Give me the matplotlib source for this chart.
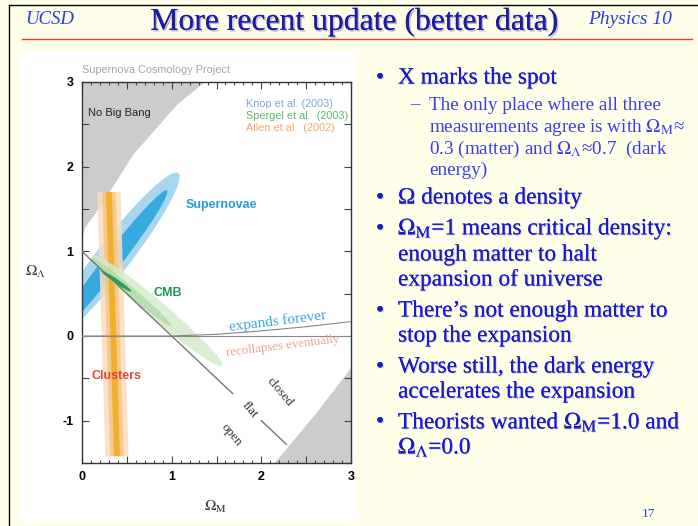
import numpy as np
import matplotlib
matplotlib.use("Agg")
import matplotlib.pyplot as plt
import matplotlib.patheffects as pe
from matplotlib.patches import Ellipse, Polygon, Rectangle
from matplotlib.ticker import MultipleLocator, FuncFormatter

plt.rcParams['font.family'] = ['Liberation Serif', 'DejaVu Serif']
plt.rcParams['mathtext.fontset'] = 'stix'

W, H = 698, 526

# ---- data read off the Omega_M / Omega_Lambda diagram ----
# "No Big Bang" boundary (upper left), Omega_M vs Omega_Lambda
nbb_om = [0.0, 0.03, 0.22, 0.57, 1.06, 1.37]
nbb_ol = [1.12, 1.27, 1.55, 2.14, 2.73, 3.0]
# grey region lower right
lr_om = [2.15, 2.6, 3.0]
lr_ol = [-1.5, -0.93, -0.38]
# expands forever / recollapses eventually boundary
ex_om = [0.0, 1.0, 1.5, 2.0, 2.5, 3.0]
ex_ol = [0.0, 0.0, 0.02, 0.06, 0.11, 0.17]
# flat universe line, split around the label
flat_om = [[0.0, 1.68], [2.0, 2.28]]
flat_ol = [[1.0, -0.68], [-1.0, -1.28]]

# supernova contours: centre, full length, full width, angle
sn_center = [(0.35, 0.93), (0.33, 0.87)]
sn_length = [2.46, 2.10]
sn_width = [0.38, 0.20]
sn_angle = [54, 54]
sn_colors = ['#a6d7ee', '#36a9de']

# CMB contours
cmb_center = [(0.84, 0.30), (0.55, 0.52), (0.38, 0.65)]
cmb_length = [1.95, 1.20, 0.42]
cmb_width = [0.21, 0.10, 0.05]
cmb_angle = [-42, -42, -36]
cmb_colors = ['#d4ebc9', '#a9d9a0', '#1e9654']
cmb_alpha = [0.85, 0.7, 0.9]

# cluster band: Omega_Lambda ends, band centre at each end, half widths
cl_ol = [1.70, -1.42]
cl_center = [0.30, 0.39]
cl_halfw = [0.13, 0.075, 0.033]
cl_colors = ['#fbdcbc', '#f7c487', '#f0ae22']
cl_alpha = [0.85, 0.85, 0.9]

legend_text = ['Knop et al. (2003)', 'Spergel et al.  (2003)', 'Allen et al.  (2002)']
legend_colors = ['#7aa6dc', '#5db86a', '#f2aa66']

bullets = [
    ('X marks the spot', 78, 'main'),
    ('The only place where all three', 105, 'sub'),
    ('measurements agree is with $\\Omega_{\\rm M}$≈', 127, 'subcont'),
    ('0.3 (matter) and $\\Omega_\\Lambda$≈0.7  (dark', 149, 'subcont'),
    ('energy)', 170, 'subcont'),
    ('Ω denotes a density', 198, 'main'),
    ('$\\Omega_{\\rm M}$=1 means critical density:', 229, 'main'),
    ('enough matter to halt', 255, 'cont'),
    ('expansion of universe', 280, 'cont'),
    ('There\u2019s not enough matter to', 311, 'main'),
    ('stop the expansion', 336, 'cont'),
    ('Worse still, the dark energy', 367, 'main'),
    ('accelerates the expansion', 392, 'cont'),
    ('Theorists wanted $\\Omega_{\\rm M}$=1.0 and', 422, 'main'),
    ('$\\Omega_\\Lambda$=0.0', 447, 'cont'),
]


def fx(x):
    return x / W


def fy(y):
    return 1 - y / H


fig = plt.figure(figsize=(W / 100, H / 100), dpi=100, facecolor='#fffee9')

# slide frame and header
fig.add_artist(plt.Line2D([fx(9), fx(9)], [fy(5), fy(526)], color='black', lw=1))
fig.add_artist(plt.Line2D([fx(9), fx(698)], [fy(5), fy(5)], color='black', lw=1))
fig.add_artist(plt.Line2D([fx(22), fx(692)], [fy(39), fy(39)], color='#ff3322', lw=1))

shadow = [pe.withSimplePatchShadow(offset=(1.2, -1.2), shadow_rgbFace='#8888aa', alpha=0.55), pe.Normal()]
light_shadow = [pe.withSimplePatchShadow(offset=(0.8, -0.8), shadow_rgbFace='#9999bb', alpha=0.4), pe.Normal()]

fig.text(fx(25), fy(20), 'UCSD', fontsize=13.5, style='italic', color='#2a3ee6', va='center')
fig.text(fx(588), fy(20), 'Physics 10', fontsize=14, style='italic', color='#2a3ee6', va='center')
fig.text(fx(354), fy(22), 'More recent update (better data)', fontsize=22.8, color='#1c1ca6',
         ha='center', va='center', path_effects=shadow)

# white panel behind the diagram
fig.add_artist(Rectangle((fx(20), fy(522)), fx(337), 469 / H, transform=fig.transFigure,
                         facecolor='white', edgecolor='none', zorder=0))

# bullet list
for txt, y, kind in bullets:
    if kind == 'main':
        fig.text(fx(376), fy(y), '•', fontsize=16.8, color='#1a1acc', va='center', path_effects=light_shadow)
    if kind in ('main', 'cont'):
        fig.text(fx(398), fy(y), txt, fontsize=16.8, color='#1a1acc', va='center', path_effects=light_shadow)
    else:
        if kind == 'sub':
            fig.text(fx(410), fy(y), '–', fontsize=13.8, color='#3b3bee', va='center')
        fig.text(fx(429), fy(y), txt, fontsize=13.8, color='#3b3bee', va='center')

fig.text(fx(648), fy(514), '17', fontsize=9.5, color='#2a3ee6', ha='center', va='center')

# ---- the Omega_M / Omega_Lambda diagram ----
ax = fig.add_axes([fx(82), fy(463), (351 - 82) / W, (463 - 82) / H])
ax.set_xlim(0, 3)
ax.set_ylim(-1.5, 3)
ax.set_facecolor('white')

ax.add_patch(Polygon(list(zip(nbb_om, nbb_ol)) + [(0, 3)], closed=True,
                     facecolor='#cccccc', edgecolor='none', zorder=1))
ax.add_patch(Polygon(list(zip(lr_om, lr_ol)) + [(3, -1.5)], closed=True,
                     facecolor='#cccccc', edgecolor='none', zorder=1))

for c, l, w, a, col in zip(sn_center, sn_length, sn_width, sn_angle, sn_colors):
    ax.add_patch(Ellipse(c, l, w, angle=a, facecolor=col, edgecolor='none', zorder=2))

for hw, col, al in zip(cl_halfw, cl_colors, cl_alpha):
    pts = [(cl_center[0] - hw, cl_ol[0]), (cl_center[0] + hw, cl_ol[0]),
           (cl_center[1] + hw, cl_ol[1]), (cl_center[1] - hw, cl_ol[1])]
    ax.add_patch(Polygon(pts, closed=True, facecolor=col, edgecolor='none', alpha=al, zorder=3))

for c, l, w, a, col, al in zip(cmb_center, cmb_length, cmb_width, cmb_angle, cmb_colors, cmb_alpha):
    ax.add_patch(Ellipse(c, l, w, angle=a, facecolor=col, edgecolor='none', alpha=al, zorder=4))

ax.axhline(0, color='#888888', lw=0.8, zorder=5)
ax.plot(ex_om, ex_ol, color='#888888', lw=0.8, zorder=5)
for xs, ys in zip(flat_om, flat_ol):
    ax.plot(xs, ys, color='#777777', lw=1, zorder=5)

sans = ['Liberation Sans', 'DejaVu Sans']
ax.text(0.07, 2.63, 'No Big Bang', family=sans, fontsize=8, color='#222222', va='center', zorder=6)
ax.text(1.56, 1.55, 'Supernovae', family=sans, fontsize=9, weight='bold', color='#2b9bd6',
        ha='center', va='center', zorder=6)
ax.text(0.96, 0.51, 'CMB', family=sans, fontsize=9, weight='bold', color='#1e9654',
        ha='center', va='center', zorder=6)
ax.text(0.39, -0.47, 'Clusters', family=sans, fontsize=9, weight='bold', color='#e2463a',
        ha='center', va='center', zorder=6)

for i, (t, col) in enumerate(zip(legend_text, legend_colors)):
    ax.text(1.83, 2.74 - i * 0.142, t, family=sans, fontsize=7.8, color=col, va='center', zorder=6)

ax.text(2.18, 0.17, 'expands forever', fontsize=11, color='#3aa6df', rotation=7,
        ha='center', va='center', zorder=6)
ax.text(2.24, -0.12, 'recollapses eventually', fontsize=9.3, color='#f0a08e', rotation=7,
        ha='center', va='center', zorder=6)
ax.text(2.2, -0.66, 'closed', fontsize=9.5, color='#333333', rotation=-50, ha='center', va='center', zorder=6)
ax.text(1.87, -0.87, 'flat', fontsize=9.5, color='#333333', rotation=-50, ha='center', va='center', zorder=6)
ax.text(1.67, -1.17, 'open', fontsize=9.5, color='#333333', rotation=-50, ha='center', va='center', zorder=6)

# ticks on all four sides, labels only at whole numbers
ax.xaxis.set_major_locator(MultipleLocator(0.5))
ax.xaxis.set_minor_locator(MultipleLocator(0.1))
ax.yaxis.set_major_locator(MultipleLocator(0.5))
whole = FuncFormatter(lambda v, p: f'{v:.0f}' if abs(v - round(v)) < 1e-6 else '')
ax.xaxis.set_major_formatter(whole)
ax.yaxis.set_major_formatter(whole)
ax.tick_params(which='both', direction='in', top=True, right=True, color='#444444', width=0.8)
ax.tick_params(which='major', length=5, labelsize=9, pad=6)
ax.tick_params(which='minor', length=2.5)
for lab in ax.get_xticklabels() + ax.get_yticklabels():
    lab.set_family(sans)
    lab.set_fontweight('bold')
for s in ax.spines.values():
    s.set_color('#333333')
    s.set_linewidth(1)

fig.text(fx(82), fy(70), 'Supernova Cosmology Project', family=sans, fontsize=7.8, color='#a6a6a6', va='center')
fig.text(fx(35), fy(272), r'$\Omega_\Lambda$', fontsize=11, color='#333333', ha='center', va='center')
fig.text(fx(215), fy(507), r'$\Omega_{\rm M}$', fontsize=11, color='#333333', ha='center', va='center')

fig.savefig('out.png', dpi=100, facecolor=fig.get_facecolor())
